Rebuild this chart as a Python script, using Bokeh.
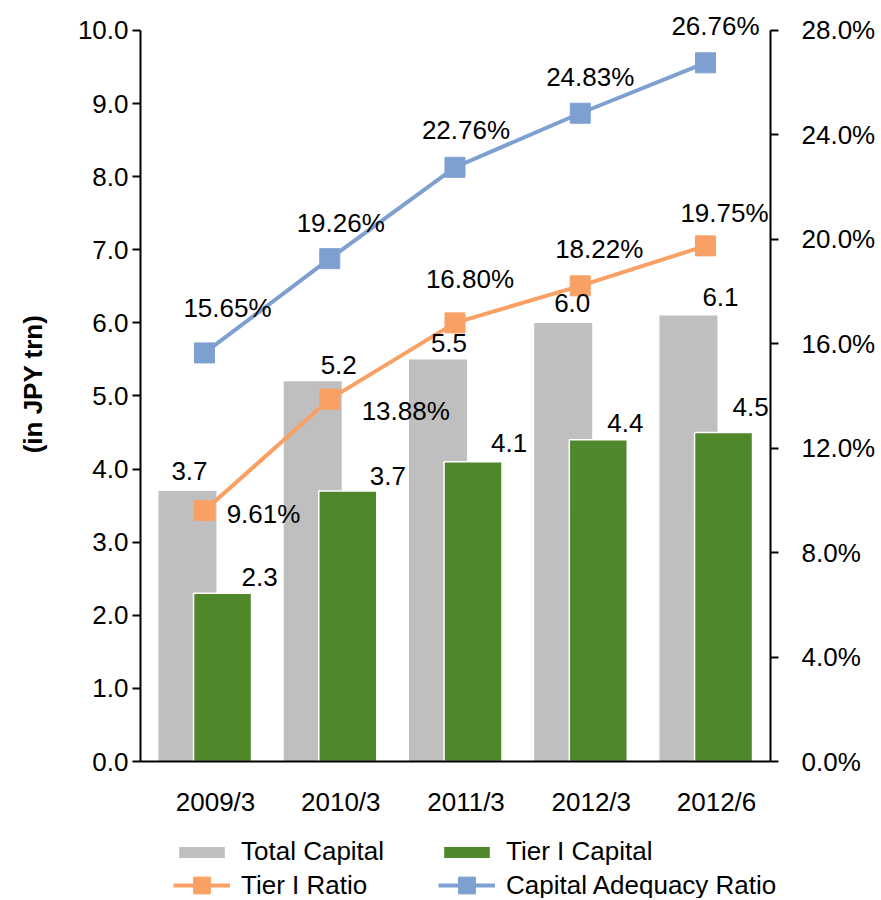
from bokeh.plotting import figure
from bokeh.layouts import column
from bokeh.models import (ColumnDataSource, Range1d, LinearAxis, FixedTicker,
                          PrintfTickFormatter, Legend, LegendItem)
from bokeh.transform import dodge
from bokeh.core.properties import value
from bokeh.embed import file_html
from bokeh.resources import INLINE

# ---------------- data ----------------
categories = ["2009/3", "2010/3", "2011/3", "2012/3", "2012/6"]
total_capital = [3.7, 5.2, 5.5, 6.0, 6.1]
tier1_capital = [2.3, 3.7, 4.1, 4.4, 4.5]
tier1_ratio = [9.61, 13.88, 16.80, 18.22, 19.75]
capital_adequacy_ratio = [15.65, 19.26, 22.76, 24.83, 26.76]
left_ticks = [0, 1, 2, 3, 4, 5, 6, 7, 8, 9, 10]
right_ticks = [0, 4, 8, 12, 16, 20, 24, 28]
left_max = 10
right_max = 28

# ---------------- style ----------------
FONT = "Liberation Sans"
FS = "26px"
GRAY = "#BFBFBF"
GREEN = "#4F872B"
ORANGE = "#F9A064"
BLUE = "#7EA0D1"
HEADROOM = 1.0328  # extra space above the top tick for labels

# label offsets in screen pixels (styling)
gray_dx = [2, 26, 11, 9, 32]
gray_dy = [-20, -16, -16, -20, -19]
green_dx = [37, 40, 36, 27, 27]
green_dy = [-16, -15, -19, -17, -26]
car_dx = [23, 11, 11, 10, 10]
car_dy = [-45, -36, -37, -36, -37]
t1r_dx = [59, 76, 15, 19, 19]
t1r_dy = [3, 12, -44, -37, -33]

x = list(range(len(categories)))
src = ColumnDataSource(dict(
    x=x, total=total_capital, tier1=tier1_capital,
    t1r=tier1_ratio, car=capital_adequacy_ratio,
    total_lbl=[f"{v:.1f}" for v in total_capital],
    tier1_lbl=[f"{v:.1f}" for v in tier1_capital],
    t1r_lbl=[f"{v:.2f}%" for v in tier1_ratio],
    car_lbl=[f"{v:.2f}%" for v in capital_adequacy_ratio],
    gray_dx=gray_dx, gray_dy=gray_dy, green_dx=green_dx, green_dy=green_dy,
    car_dx=car_dx, car_dy=car_dy, t1r_dx=t1r_dx, t1r_dy=t1r_dy,
))

GRAY_OFF = -0.224
GREEN_OFF = 0.056
LINE_OFF = -0.088
BAR_W = 0.463

p = figure(width=881, height=828,
           x_range=Range1d(-0.599, 4.431), y_range=Range1d(0, left_max * HEADROOM),
           output_backend="svg", toolbar_location=None,
           min_border_left=140, min_border_right=111,
           min_border_top=6, min_border_bottom=67)
p.frame_align = False
p.extra_y_ranges = {"pct": Range1d(0, right_max * HEADROOM)}
p.outline_line_color = None
p.xgrid.visible = False
p.ygrid.visible = False
p.background_fill_color = "white"
p.border_fill_color = "white"

gray_r = p.vbar(x=dodge("x", GRAY_OFF, range=p.x_range), top="total", width=BAR_W,
                source=src, fill_color=GRAY, line_color=None)
green_r = p.vbar(x=dodge("x", GREEN_OFF, range=p.x_range), top="tier1", width=BAR_W,
                 source=src, fill_color=GREEN, line_color="white", line_width=1.5)

p.line(x=dodge("x", LINE_OFF, range=p.x_range), y="t1r", y_range_name="pct",
       source=src, line_color=ORANGE, line_width=4)
p.scatter(x=dodge("x", LINE_OFF, range=p.x_range), y="t1r", y_range_name="pct",
          source=src, marker="square", size=20, fill_color=ORANGE, line_color=ORANGE)
p.line(x=dodge("x", LINE_OFF, range=p.x_range), y="car", y_range_name="pct",
       source=src, line_color=BLUE, line_width=4)
p.scatter(x=dodge("x", LINE_OFF, range=p.x_range), y="car", y_range_name="pct",
          source=src, marker="square", size=20, fill_color=BLUE, line_color=BLUE)

common = dict(source=src, text_align="center", text_baseline="middle",
              text_font=value(FONT), text_font_size=FS, text_color="black")
p.text(x=dodge("x", GRAY_OFF, range=p.x_range), y="total", text="total_lbl",
       x_offset="gray_dx", y_offset="gray_dy", **common)
p.text(x=dodge("x", GREEN_OFF, range=p.x_range), y="tier1", text="tier1_lbl",
       x_offset="green_dx", y_offset="green_dy", **common)
p.text(x=dodge("x", LINE_OFF, range=p.x_range), y="car", y_range_name="pct", text="car_lbl",
       x_offset="car_dx", y_offset="car_dy", **common)
p.text(x=dodge("x", LINE_OFF, range=p.x_range), y="t1r", y_range_name="pct", text="t1r_lbl",
       x_offset="t1r_dx", y_offset="t1r_dy", **common)

# left axis
ly = p.yaxis[0]
ly.ticker = FixedTicker(ticks=left_ticks)
ly.formatter = PrintfTickFormatter(format="%.1f")
ly.bounds = (0, left_max)
ly.axis_line_width = 2
ly.major_tick_line_width = 2
ly.major_tick_out = 8
ly.major_tick_in = 0
ly.minor_tick_line_color = None
ly.major_label_standoff = 4
ly.major_label_text_font = FONT
ly.major_label_text_font_size = FS
ly.major_label_text_color = "black"
ly.axis_label = "(in JPY trn)"
ly.axis_label_text_font = FONT
ly.axis_label_text_font_size = FS
ly.axis_label_text_font_style = "bold"
ly.axis_label_text_color = "black"
ly.axis_label_standoff = 27

# right axis
ry = LinearAxis(y_range_name="pct", ticker=FixedTicker(ticks=right_ticks),
                formatter=PrintfTickFormatter(format="%.1f%%"), bounds=(0, right_max))
ry.axis_line_width = 2
ry.major_tick_line_width = 2
ry.major_tick_out = 8
ry.major_tick_in = 0
ry.minor_tick_line_color = None
ry.major_label_standoff = 23
ry.major_label_text_font = FONT
ry.major_label_text_font_size = FS
ry.major_label_text_color = "black"
p.add_layout(ry, "right")

# bottom axis
bx = p.xaxis[0]
bx.ticker = FixedTicker(ticks=x)
bx.major_label_overrides = {i: c for i, c in zip(x, categories)}
bx.axis_line_width = 2
bx.major_tick_line_color = None
bx.major_tick_out = 0
bx.major_tick_in = 0
bx.minor_tick_line_color = None
bx.major_label_standoff = 25
bx.major_label_text_font = FONT
bx.major_label_text_font_size = FS
bx.major_label_text_color = "black"

# ---------------- legend strip ----------------
lg = figure(width=881, height=70, x_range=Range1d(0, 1), y_range=Range1d(0, 1),
            output_backend="svg", toolbar_location=None,
            x_axis_type=None, y_axis_type=None, min_border=0)
lg.frame_align = False
lg.outline_line_color = None
lg.background_fill_color = "white"
lg.border_fill_color = "white"
# key glyphs: single points kept outside the visible range, used only by the legend
k_gray = lg.vbar(x=[-5], top=[-5], width=0.1, fill_color=GRAY, line_color=None)
k_green = lg.vbar(x=[-5], top=[-5], width=0.1, fill_color=GREEN, line_color=None)
k_ol = lg.line(x=[-5, -4], y=[-5, -5], line_color=ORANGE, line_width=4)
k_om = lg.scatter(x=[-5], y=[-5], marker="square", fill_color=ORANGE, line_color=ORANGE)
k_bl = lg.line(x=[-5, -4], y=[-5, -5], line_color=BLUE, line_width=4)
k_bm = lg.scatter(x=[-5], y=[-5], marker="square", fill_color=BLUE, line_color=BLUE)

leg_style = dict(orientation="horizontal", glyph_width=57, label_standoff=11,
                 label_width=193, spacing=4, padding=0, margin=0,
                 border_line_color=None, background_fill_alpha=0,
                 label_text_font=FONT, label_text_font_size=FS,
                 label_text_color="black")
leg1 = Legend(items=[LegendItem(label="Total Capital", renderers=[k_gray]),
                     LegendItem(label="Tier I Capital", renderers=[k_green])],
              glyph_height=14, location=(173, 31), **leg_style)
leg2 = Legend(items=[LegendItem(label="Tier I Ratio", renderers=[k_ol, k_om]),
                     LegendItem(label="Capital Adequacy Ratio", renderers=[k_bl, k_bm])],
              glyph_height=42, location=(173, -8), **leg_style)
lg.add_layout(leg1)
lg.add_layout(leg2)

page = column(p, lg, spacing=0)
open("out.html", "w").write(file_html(page, INLINE))
